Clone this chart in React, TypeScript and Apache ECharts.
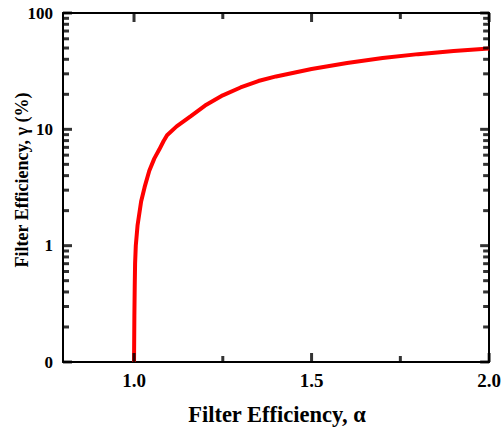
import React, { useEffect, useRef } from "react";
import * as echarts from "echarts";

const alphaValues = [1.0, 1.001, 1.002, 1.003, 1.005, 1.01, 1.02, 1.03, 1.043, 1.057, 1.071, 1.083, 1.093, 1.12, 1.16, 1.2, 1.25, 1.3, 1.35, 1.4, 1.5, 1.6, 1.7, 1.8, 1.9, 2.0];
const gammaValues = [0.1, 0.25, 0.45, 0.7, 1.0, 1.5, 2.4, 3.2, 4.4, 5.6, 6.7, 7.9, 8.9, 10.6, 13.0, 16.0, 19.6, 22.9, 26.0, 28.5, 33.0, 37.2, 41.0, 44.3, 47.2, 49.5];
const xLabelValues = [1.0, 1.5, 2.0];
const xMinorValues = [1.25, 1.75];
const yMajorValues = [0.1, 1, 10, 100];
const yMinorValues = [0.2, 0.3, 0.4, 0.5, 0.6, 0.7, 0.8, 0.9, 2, 3, 4, 5, 6, 7, 8, 9, 20, 30, 40, 50, 60, 70, 80, 90];

const X_MIN = 0.8;
const X_MAX = 2.0;
const Y_MIN = 0.1;
const Y_MAX = 100;
const FONT = '"Liberation Serif", "Times New Roman", serif';

function tickSeries(data: number[][], size: number[], offset: number[]) {
  return {
    type: "scatter",
    xAxisIndex: 0,
    yAxisIndex: 0,
    clip: false,
    silent: true,
    symbol: "rect",
    symbolSize: size,
    symbolOffset: offset,
    itemStyle: { color: "#000000" },
    z: 5,
    data,
  };
}

export default function App() {
  const ref = useRef<HTMLDivElement>(null);
  useEffect(() => {
    if (!ref.current) return;
    const chart = echarts.init(ref.current, null, { renderer: "svg" });
    const line = { show: true, lineStyle: { color: "#000", width: 2 } };
    const MAJ = 9;
    const MIN = 6;
    const W = 3;

    chart.setOption({
      animation: false,
      grid: { left: 63, right: 12, top: 13, bottom: 69 },
      xAxis: [
        {
          type: "value", min: X_MIN, max: X_MAX, position: "bottom",
          axisLine: { ...line, onZero: false },
          splitLine: { show: false },
          axisTick: { show: false },
          axisLabel: { show: true, customValues: xLabelValues, margin: 9, color: "#000", fontFamily: FONT, fontWeight: "bold", fontSize: 19, formatter: (v: number) => v.toFixed(1) },
        },
        {
          type: "value", min: X_MIN, max: X_MAX, position: "top",
          axisLine: { ...line, onZero: false },
          splitLine: { show: false },
          axisTick: { show: false },
          axisLabel: { show: false },
        },
      ],
      yAxis: [
        {
          type: "log", logBase: 10, min: Y_MIN, max: Y_MAX, position: "left",
          axisLine: line,
          splitLine: { show: false },
          axisTick: { show: false },
          axisLabel: { show: true, customValues: yMajorValues, margin: 10, color: "#000", fontFamily: FONT, fontWeight: "bold", fontSize: 17, formatter: (v: number) => (v < 1 ? "0" : String(Math.round(v))) },
        },
        {
          type: "log", logBase: 10, min: Y_MIN, max: Y_MAX, position: "right",
          axisLine: line,
          splitLine: { show: false },
          axisTick: { show: false },
          axisLabel: { show: false },
        },
      ],
      graphic: [
        {
          type: "text", x: 277, y: 414,
          style: { text: "Filter Efficiency, α", fill: "#000", font: `bold 22.5px ${FONT}`, align: "center", verticalAlign: "middle" },
        },
        {
          type: "text", x: 22, y: 180, rotation: Math.PI / 2,
          style: { text: "Filter Efficiency, γ (%)", fill: "#000", font: `bold 18px ${FONT}`, align: "center", verticalAlign: "middle" },
        },
      ],
      series: [
        {
          type: "line", xAxisIndex: 0, yAxisIndex: 0, showSymbol: false, smooth: false,
          lineStyle: { color: "#ff0000", width: 4 },
          data: alphaValues.map((a, i) => [a, gammaValues[i]]),
          z: 2,
        },
        // x ticks, bottom and top
        tickSeries(xLabelValues.map((v) => [v, Y_MIN]), [W, MAJ], [0, -MAJ / 2]),
        tickSeries(xLabelValues.map((v) => [v, Y_MAX]), [W, MAJ], [0, MAJ / 2]),
        tickSeries(xMinorValues.map((v) => [v, Y_MIN]), [W, MIN], [0, -MIN / 2]),
        tickSeries(xMinorValues.map((v) => [v, Y_MAX]), [W, MIN], [0, MIN / 2]),
        // y ticks, left and right
        tickSeries(yMajorValues.map((v) => [X_MIN, v]), [MAJ, W], [MAJ / 2, 0]),
        tickSeries(yMajorValues.map((v) => [X_MAX, v]), [MAJ, W], [-MAJ / 2, 0]),
        tickSeries(yMinorValues.map((v) => [X_MIN, v]), [MIN, W], [MIN / 2, 0]),
        tickSeries(yMinorValues.map((v) => [X_MAX, v]), [MIN, W], [-MIN / 2, 0]),
      ],
    });
    return () => chart.dispose();
  }, []);
  return <div ref={ref} style={{ width: 504, height: 431, position: "absolute", left: 0, top: 0 }} />;
}
